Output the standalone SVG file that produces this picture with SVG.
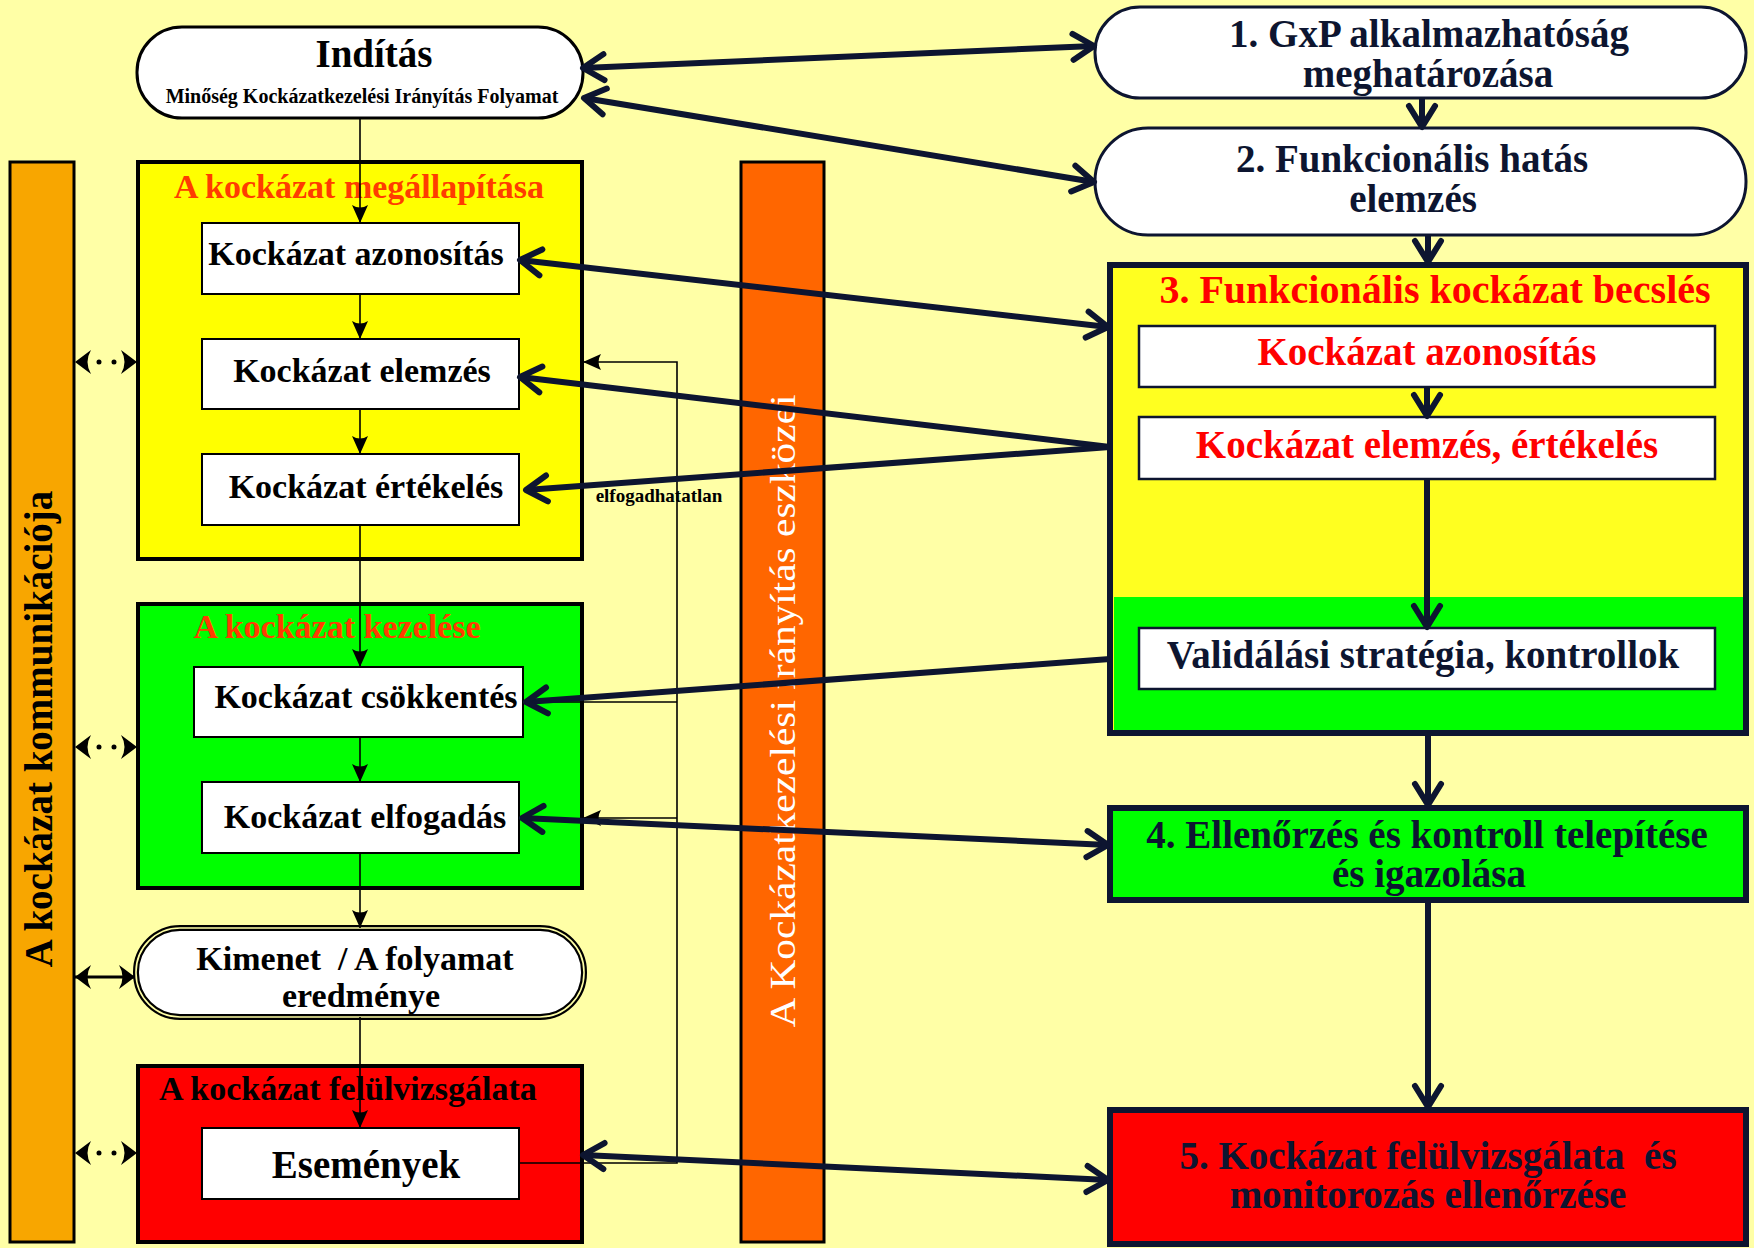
<svg xmlns="http://www.w3.org/2000/svg" width="1754" height="1248" viewBox="0 0 1754 1248">
<defs>
<style>
text{font-family:"Liberation Serif","Times New Roman",serif;font-weight:bold;text-anchor:middle}
.lt{font-size:34px;fill:#000}
.rt{font-size:39px;fill:#0D1530}
.red{fill:#FF0000}
.sec{font-size:34px;fill:#FF3C00}
.wb{fill:#FFFFFF;stroke:#000;stroke-width:2}
.wbr{fill:#FFFFFF;stroke:#0D1530;stroke-width:2.5}
.grp{stroke:#000;stroke-width:4}
.big{stroke:#0D1530;stroke-width:6}
.thin{fill:none;stroke:#000;stroke-width:1.6}
.thick{fill:none;stroke:#0D1530;stroke-width:6}
.dots{fill:none;stroke:#000;stroke-width:5;stroke-linecap:round;stroke-dasharray:0 15;stroke-dashoffset:-24}
</style>
<marker id="chev" viewBox="-30 -20 36 40" refX="0" refY="0" markerWidth="36" markerHeight="40" markerUnits="userSpaceOnUse" orient="auto-start-reverse">
<path d="M-21,-13 L0,0 L-21,13" fill="none" stroke="#0D1530" stroke-width="6" stroke-linecap="round" stroke-linejoin="round"/>
</marker>
<marker id="tri" viewBox="-20 -10 22 20" refX="0" refY="0" markerWidth="22" markerHeight="20" markerUnits="userSpaceOnUse" orient="auto-start-reverse">
<path d="M0,0 L-18,-8 Q-13,0 -18,8 Z" fill="#000"/>
</marker>
<marker id="dtri" viewBox="-18 -14 20 28" refX="0" refY="0" markerWidth="20" markerHeight="28" markerUnits="userSpaceOnUse" orient="auto-start-reverse">
<path d="M0,0 L-16,-12 Q-9,0 -16,12 Z" fill="#000"/>
</marker>
</defs>

<rect x="0" y="0" width="1754" height="1248" fill="#FFFFA6"/>

<!-- side bars -->
<g id="bar-kommunikacio">
<rect x="10" y="162" width="64" height="1080" fill="#F8A600" stroke="#000" stroke-width="3"/>
<text transform="translate(52,729) rotate(-90)" style="font-size:39px">A kockázat kommunikációja</text>
</g>
<g id="bar-eszkozei">
<rect x="741" y="162" width="83" height="1080" fill="#FF6600" stroke="#000" stroke-width="3"/>
<text transform="translate(795,711) rotate(-90)" style="font-size:36px;font-weight:normal;fill:#FFFFFF" textLength="633" lengthAdjust="spacingAndGlyphs">A Kockázatkezelési irányítás eszközei</text>
</g>

<!-- left column -->
<g id="inditas">
<rect x="137" y="27" width="446" height="91" rx="45" ry="45" fill="#FFFFFF" stroke="#000" stroke-width="3"/>
<text x="374" y="67" style="font-size:39px">Indítás</text>
<text x="362" y="103" style="font-size:20px">Minőség Kockázatkezelési Irányítás Folyamat</text>
</g>

<g id="megallapitas">
<rect class="grp" x="138" y="162" width="444" height="397" fill="#FFFF00"/>
<text class="sec" x="359" y="198">A kockázat megállapítása</text>
</g>
<g id="azonositas">
<rect class="wb" x="202" y="223" width="317" height="71"/>
<text class="lt" x="356" y="265">Kockázat azonosítás</text>
</g>
<g id="elemzes">
<rect class="wb" x="202" y="339" width="317" height="70"/>
<text class="lt" x="362" y="382">Kockázat elemzés</text>
</g>
<g id="ertekeles">
<rect class="wb" x="202" y="454" width="317" height="71"/>
<text class="lt" x="366" y="498">Kockázat értékelés</text>
</g>

<g id="kezeles">
<rect class="grp" x="138" y="604" width="444" height="284" fill="#00FF00"/>
<text class="sec" x="337" y="638">A kockázat kezelése</text>
</g>
<g id="csokkentes">
<rect class="wb" x="194" y="667" width="329" height="70"/>
<text class="lt" x="366" y="708">Kockázat csökkentés</text>
</g>
<g id="elfogadas">
<rect class="wb" x="202" y="782" width="317" height="71"/>
<text class="lt" x="365" y="828">Kockázat elfogadás</text>
</g>

<g id="kimenet">
<rect x="136" y="928" width="448" height="89" rx="44" ry="44" fill="#FFFFFF" stroke="#000" stroke-width="6"/>
<rect x="136" y="928" width="448" height="89" rx="44" ry="44" fill="none" stroke="#FFFFA6" stroke-width="1.6"/>
<text class="lt" x="355" y="970" xml:space="preserve">Kimenet  / A folyamat</text>
<text class="lt" x="361" y="1007">eredménye</text>
</g>

<g id="felulvizsgalat">
<rect class="grp" x="138" y="1066" width="444" height="176" fill="#FF0000"/>
<text class="lt" x="348" y="1100">A kockázat felülvizsgálata</text>
</g>
<g id="esemenyek">
<rect class="wb" x="202" y="1128" width="317" height="71"/>
<text class="lt" x="366" y="1178" style="font-size:39px">Események</text>
</g>

<g id="elfogadhatatlan-label">
<text x="659" y="502" style="font-size:19px">elfogadhatatlan</text>
</g>

<!-- right column -->
<g id="step1">
<rect x="1095" y="7" width="651" height="91" rx="45" ry="45" fill="#FFFFFF" stroke="#0D1530" stroke-width="3"/>
<text class="rt" x="1429" y="47">1. GxP alkalmazhatóság</text>
<text class="rt" x="1428" y="87">meghatározása</text>
</g>
<g id="step2">
<rect x="1095" y="128" width="651" height="107" rx="53" ry="53" fill="#FFFFFF" stroke="#0D1530" stroke-width="3"/>
<text class="rt" x="1412" y="172">2. Funkcionális hatás</text>
<text class="rt" x="1413" y="212">elemzés</text>
</g>
<g id="step3">
<rect x="1110" y="265" width="636" height="468" fill="#FFFF20"/>
<rect x="1114" y="597" width="630" height="133" fill="#00FF00"/>
<rect x="1110" y="265" width="636" height="468" fill="none" stroke="#0D1530" stroke-width="6"/>
<text class="rt red" x="1435" y="303" style="font-size:40px">3. Funkcionális kockázat becslés</text>
</g>
<g id="step3-azonositas">
<rect class="wbr" x="1139" y="326" width="576" height="61"/>
<text class="rt red" x="1427" y="365">Kockázat azonosítás</text>
</g>
<g id="step3-elemzes">
<rect class="wbr" x="1139" y="417" width="576" height="62"/>
<text class="rt red" x="1427" y="458">Kockázat elemzés, értékelés</text>
</g>
<g id="step3-validalas">
<rect class="wbr" x="1139" y="628" width="576" height="61"/>
<text class="rt" x="1423" y="668">Validálási stratégia, kontrollok</text>
</g>
<g id="step4">
<rect class="big" x="1110" y="808" width="636" height="92" fill="#00FF00"/>
<text class="rt" x="1427" y="848">4. Ellenőrzés és kontroll telepítése</text>
<text class="rt" x="1429" y="887">és igazolása</text>
</g>
<g id="step5">
<rect class="big" x="1110" y="1110" width="636" height="134" fill="#FF0000"/>
<text class="rt" x="1428" y="1169" xml:space="preserve">5. Kockázat felülvizsgálata  és</text>
<text class="rt" x="1428" y="1208">monitorozás ellenőrzése</text>
</g>

<!-- connectors -->
<g id="connectors">
<line class="thin" x1="360" y1="118" x2="360" y2="223" marker-end="url(#tri)"/>
<line class="thin" x1="360" y1="294" x2="360" y2="339" marker-end="url(#tri)"/>
<line class="thin" x1="360" y1="409" x2="360" y2="454" marker-end="url(#tri)"/>
<line class="thin" x1="360" y1="525" x2="360" y2="667" marker-end="url(#tri)"/>
<line class="thin" x1="360" y1="737" x2="360" y2="782" marker-end="url(#tri)"/>
<line class="thin" x1="360" y1="853" x2="360" y2="928" marker-end="url(#tri)"/>
<line class="thin" x1="360" y1="1017" x2="360" y2="1128" marker-end="url(#tri)"/>
<path class="thin" d="M519,1163 H677 V362 H583" marker-end="url(#tri)"/>
<path class="thin" d="M523,702 H677"/>
<path class="thin" d="M677,818 H583" marker-end="url(#tri)"/>
<line class="dots" x1="75" y1="362" x2="137" y2="362" marker-start="url(#dtri)" marker-end="url(#dtri)"/>
<line class="dots" x1="75" y1="747" x2="137" y2="747" marker-start="url(#dtri)" marker-end="url(#dtri)"/>
<line class="dots" x1="75" y1="1153" x2="137" y2="1153" marker-start="url(#dtri)" marker-end="url(#dtri)"/>
<line x1="75" y1="977" x2="135" y2="977" stroke="#000" stroke-width="3" marker-start="url(#dtri)" marker-end="url(#dtri)"/>
<line class="thick" x1="583" y1="68" x2="1094" y2="46" marker-start="url(#chev)" marker-end="url(#chev)"/>
<line class="thick" x1="584" y1="98" x2="1094" y2="182" marker-start="url(#chev)" marker-end="url(#chev)"/>
<line class="thick" x1="520" y1="260" x2="1108" y2="327" marker-start="url(#chev)" marker-end="url(#chev)"/>
<line class="thick" x1="1110" y1="447" x2="520" y2="377" marker-end="url(#chev)"/>
<line class="thick" x1="1110" y1="447" x2="526" y2="490" marker-end="url(#chev)"/>
<line class="thick" x1="1110" y1="659" x2="526" y2="702" marker-end="url(#chev)"/>
<line class="thick" x1="522" y1="818" x2="1108" y2="845" marker-start="url(#chev)" marker-end="url(#chev)"/>
<line class="thick" x1="583" y1="1155" x2="1108" y2="1180" marker-start="url(#chev)" marker-end="url(#chev)"/>
<line class="thick" x1="1422" y1="98" x2="1422" y2="127" marker-end="url(#chev)"/>
<line class="thick" x1="1428" y1="235" x2="1428" y2="262" marker-end="url(#chev)"/>
<line class="thick" x1="1427" y1="387" x2="1427" y2="416" marker-end="url(#chev)"/>
<line class="thick" x1="1427" y1="479" x2="1427" y2="627" marker-end="url(#chev)"/>
<line class="thick" x1="1428" y1="736" x2="1428" y2="805" marker-end="url(#chev)"/>
<line class="thick" x1="1428" y1="903" x2="1428" y2="1107" marker-end="url(#chev)"/>
</g>
</svg>
